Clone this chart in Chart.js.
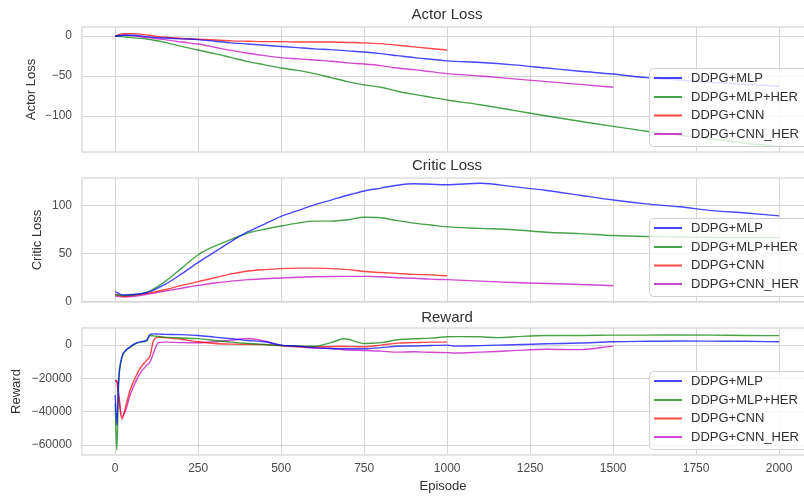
<!DOCTYPE html>
<html>
<head>
<meta charset="utf-8">
<script src="https://cdn.jsdelivr.net/npm/chart.js@4.4.0/dist/chart.umd.min.js"></script>
<style>
    body { margin: 0; background: #fff; }
    #wrap { position: relative; width: 804px; height: 498px; overflow: hidden; }
    canvas { position: absolute; left: 0; }
</style>
</head>
<body>
<div id="wrap">
    <canvas id="actorChart" width="804" height="160" style="top:0px"></canvas>
    <canvas id="criticChart" width="804" height="160" style="top:150px"></canvas>
    <canvas id="rewardChart" width="804" height="198" style="top:300px"></canvas>
</div>
<script>
const seriesNames = ['DDPG+MLP', 'DDPG+MLP+HER', 'DDPG+CNN', 'DDPG+CNN_HER'];
const episodeTicks = [0, 250, 500, 750, 1000, 1250, 1500, 1750, 2000];

// episodios para las curvas de perdida
const lossEpisodes = [0, 25, 50, 100, 150, 200, 250, 300, 350, 400, 450, 500, 550, 600, 650, 700, 750, 800, 850, 900, 950,
    1000, 1100, 1200, 1300, 1400, 1500, 1600, 1700, 1800, 1900, 2000];

const actorMlp = [0, 1, 1, -1, -2.5, -3.5, -4.5, -6.5, -8.5, -10, -11.5, -13, -14.5, -16, -17, -18.5, -20, -22, -24.5, -27, -29,
    -31, -33, -36, -40, -44, -47.5, -52, -55, -58, -60.5, -63];
const actorMlpHer = [0, -1, -2, -4, -8, -13, -17.5, -22, -27, -32, -36, -40, -43, -47, -52, -57, -61, -64, -69, -73, -76.5,
    -80, -86, -93, -100, -106.5, -113, -119, -124, -129, -134, -138];
const actorCnn = [0, 3, 3, 1, -1.5, -3, -4, -5, -6, -6.5, -7, -7, -7.5, -7.5, -7.5, -8, -8.5, -9.5, -11.5, -13.5, -15.5, -17.5];
const actorCnnHer = [0, 1.5, 0.5, -2, -4.5, -7.5, -10, -14, -18, -21.5, -24.5, -27, -28.5, -30, -31.5, -33.5, -35, -37, -40, -42, -44.5,
    -47, -50, -53.5, -57, -60.5, -64];
const actorTicks = [-100, -50, 0];

const criticMlp = [10.5, 7, 7.5, 10, 18, 29, 41, 52, 63, 73, 81, 89, 95, 101, 106, 111, 115.5, 118.5, 121.5, 123, 122.5,
    122, 123.5, 120, 116, 111, 106, 102, 99, 95, 92.5, 89.5];
const criticMlpHer = [7, 6.5, 7, 10.5, 21, 35, 49, 58, 65, 71.5, 75.5, 79, 82, 84, 84, 85.5, 88, 87.5, 84.5, 82, 80,
    78, 76.5, 75, 72.5, 71, 69, 68, 67.5, 67, 67, 67];
const criticCnn = [8, 5.5, 6.5, 9, 12.5, 17, 21, 25, 29, 32, 33.5, 34.5, 35, 35, 34.5, 33.5, 31.5, 30.5, 29.5, 28.5, 28, 27];
const criticCnnHer = [6, 5, 5.5, 8, 11, 14, 17, 19.5, 21.5, 23, 24, 24.7, 25.5, 26, 26.3, 26.4, 26.4, 26, 25, 24.5, 23.5,
    23, 21.5, 20, 19, 18, 16.7];
const criticTicks = [0, 50, 100];

// episodios para la recompensa (mas detalle al inicio)
const rewardEpisodes = [0, 5, 10, 20, 30, 45, 55, 75, 95, 105, 115, 130, 150, 200, 250, 300, 350, 400, 450, 500, 550, 600, 650, 690,
    750, 800, 850, 900, 950, 1000, 1025, 1100, 1150, 1200, 1300, 1400, 1500, 1600, 1700, 1800, 1900, 2000];
const rewardMlp = [-30000, -48000, -22000, -7000, -3500, -1000, 500, 2000, 3000, 6500, 6800, 6600, 6500, 6300, 5800, 4800, 3800, 2800, 2000, 0,
    -600, -1500, -2000, -2200, -2200, -1500, -700, -500, -200, 0, -600, -300, 0, 200, 800, 1300, 2000, 2300, 2500, 2400, 2300, 2000];
const rewardMlpHer = [-35000, -63000, -25000, -8000, -3800, -1200, 200, 1800, 2600, 5800, 5600, 5200, 4800, 4300, 3900, 2800, 1800, 1000, 400, -300,
    -500, -700, 1500, 3800, 1000, 1500, 3200, 3800, 4200, 5000, 5100, 5000, 4500, 5000, 5800, 5800, 6000, 6000, 6100, 6000, 5800, 5700];
const rewardCnn = [-21000, -22000, -30000, -44500, -38000, -27000, -22000, -14000, -9000, -6500, 2500, 4800, 4500, 3500, 2000, 1000, 600, 500, 300, -200,
    -800, -1000, -900, -800, -1000, 0, 1200, 1500, 1800, 1800];
const rewardCnnHer = [-22000, -21500, -28000, -43000, -40000, -30000, -25000, -17000, -12000, -10000, -5000, 1500, 1800, 1500, 1400, 2000, 3000, 4000, 2500, -200,
    -1000, -1800, -2000, -2800, -3200, -3600, -4200, -4000, -4300, -4500, -4700, -4200, -3800, -3300, -2500, -2700, -600];
const rewardTicks = [-60000, -40000, -20000, 0];

const seriesColors = ['rgba(0,0,255,0.72)', 'rgba(0,128,0,0.72)', 'rgba(255,0,0,0.72)', 'rgba(191,0,191,0.72)'];
const gridColor = '#d6d6d6';
const textColor = '#4a4a4a';
Chart.defaults.font.family = "'Liberation Sans', Arial, sans-serif";

function toPoints(xs, ys) {
    return ys.map((y, i) => ({ x: xs[i], y: y }));
}

function fmtTick(v) {
    return v < 0 ? '\u2212' + Math.abs(v) : String(v);
}

// marco, titulo y leyenda dentro del area del grafico
const panelDecor = {
    id: 'panelDecor',
    afterDraw(chart, args, opts) {
        const c = chart.ctx;
        const a = chart.chartArea;
        c.save();
        c.strokeStyle = gridColor;
        c.lineWidth = 1.25;
        c.strokeRect(a.left, a.top, a.right - a.left + 20, a.bottom - a.top);

        c.fillStyle = '#303030';
        c.font = "15px 'Liberation Sans', Arial, sans-serif";
        c.textAlign = 'center';
        c.textBaseline = 'alphabetic';
        c.fillText(opts.text, 447, opts.titleY);

        const boxTop = a.bottom - 6 - 78;
        c.beginPath();
        c.roundRect(649.5, boxTop + 0.5, 160, 78, 4);
        c.fillStyle = 'rgba(255,255,255,0.8)';
        c.fill();
        c.strokeStyle = '#d0d0d0';
        c.lineWidth = 1;
        c.stroke();

        const rows = [10, 29, 47.5, 66];
        c.font = "13px 'Liberation Sans', Arial, sans-serif";
        c.textAlign = 'left';
        c.textBaseline = 'middle';
        seriesNames.forEach((name, i) => {
            const y = boxTop + rows[i];
            c.strokeStyle = seriesColors[i];
            c.lineWidth = 2;
            c.beginPath();
            c.moveTo(654, y);
            c.lineTo(682, y);
            c.stroke();
            c.fillStyle = '#303030';
            c.fillText(name, 691, y);
        });
        c.restore();
    }
};

function makePanel(id, cfg) {
    const ctx = document.getElementById(id).getContext('2d');
    return new Chart(ctx, {
        type: 'line',
        data: {
            datasets: cfg.values.map((ys, i) => ({
                label: seriesNames[i],
                data: toPoints(cfg.xs, ys),
                borderColor: seriesColors[i],
                borderWidth: 1.4,
                pointRadius: 0,
                fill: false,
                cubicInterpolationMode: 'monotone'
            }))
        },
        options: {
            responsive: false,
            animation: false,
            layout: { padding: { top: cfg.padTop, bottom: cfg.padBottom, left: 0, right: 0 } },
            plugins: {
                legend: { display: false },
                tooltip: { enabled: false },
                panelDecor: { text: cfg.title, titleY: cfg.titleY }
            },
            scales: {
                x: {
                    type: 'linear',
                    min: -100,
                    max: 2075,
                    afterBuildTicks: s => { s.ticks = episodeTicks.map(v => ({ value: v })); },
                    afterFit: s => { s.height = cfg.xHeight; },
                    grid: { color: gridColor, drawTicks: false },
                    border: { display: false },
                    ticks: { display: cfg.showX, padding: 6, color: textColor, font: { size: 12 }, callback: fmtTick },
                    title: { display: cfg.showX, text: 'Episode', color: '#303030', font: { size: 13 }, padding: { top: 0, bottom: 4 } }
                },
                y: {
                    min: cfg.yMin,
                    max: cfg.yMax,
                    afterBuildTicks: s => { s.ticks = cfg.yTicks.map(v => ({ value: v })); },
                    afterFit: s => { s.width = 82; },
                    grid: { color: gridColor, drawTicks: true, tickLength: 10, tickColor: 'rgba(0,0,0,0)' },
                    border: { display: false },
                    ticks: { padding: 0, color: textColor, font: { size: 12 }, callback: fmtTick },
                    title: { display: true, text: cfg.yLabel, color: '#303030', font: { size: 13 }, padding: { top: cfg.yTitlePad, bottom: 0 } }
                }
            }
        },
        plugins: [panelDecor]
    });
}

window.onload = function() {
    makePanel('actorChart', {
        title: 'Actor Loss', titleY: 19, yLabel: 'Actor Loss', yTitlePad: 24,
        xs: lossEpisodes, values: [actorMlp, actorMlpHer, actorCnn, actorCnnHer],
        yMin: -145, yMax: 11.3, yTicks: actorTicks,
        padTop: 27, padBottom: 8, xHeight: 0, showX: false
    });
    makePanel('criticChart', {
        title: 'Critic Loss', titleY: 20, yLabel: 'Critic Loss', yTitlePad: 30,
        xs: lossEpisodes, values: [criticMlp, criticMlpHer, criticCnn, criticCnnHer],
        yMin: -0.3, yMax: 129, yTicks: criticTicks,
        padTop: 28, padBottom: 8, xHeight: 0, showX: false
    });
    makePanel('rewardChart', {
        title: 'Reward', titleY: 22, yLabel: 'Reward', yTitlePad: 9,
        xs: rewardEpisodes, values: [rewardMlp, rewardMlpHer, rewardCnn, rewardCnnHer],
        yMin: -66000, yMax: 10300, yTicks: rewardTicks,
        padTop: 28, padBottom: 0, xHeight: 43, showX: true
    });
};
</script>
</body>
</html>
